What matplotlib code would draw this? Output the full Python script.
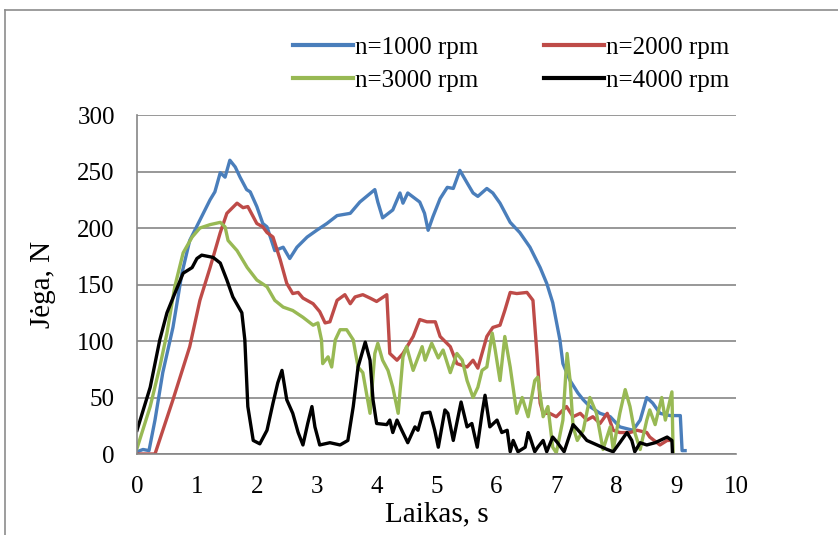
import matplotlib.pyplot as plt
from matplotlib.lines import Line2D

plt.rcParams["font.family"] = ["Liberation Serif", "DejaVu Serif"]

# =========================
# Data
# =========================
x_1000 = [0, 0.1, 0.2, 0.3, 0.43, 0.6, 0.75, 0.88, 1.05, 1.22, 1.3, 1.39, 1.47, 1.55, 1.64,
          1.72, 1.83, 1.89, 2.0, 2.1, 2.17, 2.3, 2.44, 2.55, 2.67, 2.84, 3.0, 3.17, 3.34,
          3.56, 3.72, 3.97, 4.02, 4.1, 4.27, 4.39, 4.44, 4.52, 4.72, 4.8, 4.86, 4.94, 5.06,
          5.18, 5.28, 5.39, 5.51, 5.61, 5.69, 5.84, 5.94, 6.06, 6.23, 6.39, 6.56, 6.73,
          6.84, 6.94, 7.06, 7.11, 7.23, 7.36, 7.45, 7.56, 7.73, 7.9, 8.06, 8.28, 8.4, 8.51,
          8.61, 8.73, 8.9, 9.07, 9.1, 9.15]
y_1000 = [2, 4, 3, 30, 72, 112, 160, 189, 207, 225, 232, 249, 245, 260, 254,
          245, 234, 232, 219, 204, 201, 180, 183, 173, 183, 192, 198, 204, 211,
          213, 223, 234, 223, 209, 216, 231, 222, 231, 223, 213, 198, 210, 226,
          236, 235, 251, 240, 231, 228, 235, 231, 222, 205, 196, 183, 165,
          151, 134, 101, 80, 65, 54, 48, 42, 36, 33, 24, 21, 30, 50,
          45, 36, 34, 34, 3, 3]

x_2000 = [0, 0.3, 0.6, 0.88, 1.05, 1.22, 1.39, 1.5, 1.67, 1.77, 1.85, 2.0, 2.1, 2.17, 2.27,
          2.39, 2.5, 2.6, 2.69, 2.77, 2.94, 3.05, 3.14, 3.22, 3.34, 3.47, 3.56, 3.64, 3.77,
          3.89, 4.0, 4.17, 4.22, 4.34, 4.44, 4.61, 4.72, 4.84, 4.98, 5.06, 5.23, 5.34, 5.51,
          5.61, 5.69, 5.84, 5.94, 6.06, 6.14, 6.23, 6.34, 6.51, 6.61, 6.68, 6.73, 6.78,
          6.89, 7.0, 7.17, 7.28, 7.4, 7.51, 7.61, 7.73, 7.85, 7.95, 8.06, 8.23, 8.35,
          8.51, 8.56, 8.73, 8.85, 8.9]
y_2000 = [0, 0, 48, 95, 136, 165, 196, 213, 222, 218, 219, 204, 201, 196, 192,
          172, 151, 142, 143, 138, 133, 126, 116, 117, 136, 141, 133, 139, 141,
          138, 135, 141, 89, 83, 89, 104, 119, 117, 117, 104, 95, 80, 77,
          83, 76, 104, 112, 114, 127, 143, 142, 143, 136, 86, 45, 36,
          36, 33, 42, 33, 36, 30, 33, 27, 36, 21, 19, 19, 21,
          19, 15, 8, 12, 12]

x_3000 = [0, 0.22, 0.38, 0.5, 0.63, 0.77, 0.92, 1.05, 1.22, 1.39, 1.47, 1.52, 1.67, 1.84,
          2.0, 2.17, 2.3, 2.44, 2.6, 2.77, 2.94, 3.02, 3.08, 3.1, 3.19, 3.25, 3.31, 3.39,
          3.5, 3.61, 3.69, 3.77, 3.89, 3.97, 4.02, 4.1, 4.19, 4.27, 4.36, 4.44, 4.5, 4.61,
          4.76, 4.81, 4.92, 5.03, 5.11, 5.23, 5.34, 5.43, 5.51, 5.61, 5.69, 5.76, 5.84,
          5.93, 5.98, 6.06, 6.14, 6.23, 6.34, 6.43, 6.53, 6.64, 6.69, 6.78, 6.86, 6.94,
          7.0, 7.11, 7.18, 7.23, 7.28, 7.35, 7.45, 7.56, 7.67, 7.78, 7.9, 7.95, 8.06,
          8.15, 8.23, 8.31, 8.4, 8.51, 8.56, 8.65, 8.76, 8.82, 8.93, 8.95]
y_3000 = [5, 42, 77, 107, 148, 178, 192, 200, 203, 205, 201, 189, 180, 165,
          154, 148, 136, 130, 127, 121, 114, 116, 101, 80, 86, 77, 101, 110,
          110, 101, 77, 72, 36, 89, 98, 83, 74, 59, 36, 86, 95, 74,
          95, 83, 98, 85, 92, 72, 89, 83, 65, 50, 59, 74, 77,
          107, 92, 65, 104, 77, 36, 50, 33, 65, 68, 33, 42, 6,
          1, 30, 89, 65, 24, 12, 21, 50, 36, 4, 24, 4, 36,
          57, 42, 19, 4, 30, 39, 26, 50, 30, 55, 1]

x_4000 = [0, 0.22, 0.38, 0.5, 0.63, 0.77, 0.92, 1.0, 1.08, 1.27, 1.39, 1.5, 1.6, 1.75, 1.8,
          1.85, 1.94, 2.05, 2.17, 2.27, 2.35, 2.42, 2.5, 2.6, 2.69, 2.77, 2.85, 2.92, 2.97,
          3.05, 3.22, 3.39, 3.52, 3.61, 3.69, 3.81, 3.89, 3.94, 4.0, 4.17, 4.22, 4.27, 4.34,
          4.42, 4.52, 4.64, 4.69, 4.77, 4.89, 4.97, 5.03, 5.14, 5.19, 5.28, 5.41, 5.51,
          5.59, 5.68, 5.76, 5.81, 5.89, 6.01, 6.09, 6.18, 6.23, 6.28, 6.36, 6.48, 6.53,
          6.56, 6.64, 6.69, 6.78, 6.84, 6.94, 7.02, 7.13, 7.28, 7.4, 7.51, 7.68, 7.85,
          7.95, 8.06, 8.18, 8.26, 8.31, 8.4, 8.51, 8.65, 8.73, 8.85, 8.93, 8.94]
y_4000 = [21, 59, 101, 125, 142, 160, 165, 173, 176, 174, 169, 154, 139, 125, 101,
          42, 12, 9, 21, 45, 63, 74, 48, 36, 19, 8, 27, 42, 24,
          8, 10, 8, 12, 42, 77, 99, 83, 48, 27, 26, 30, 19, 30,
          21, 10, 24, 21, 36, 37, 21, 6, 39, 36, 12, 46, 24,
          27, 6, 36, 52, 24, 30, 19, 21, 2, 12, 2, 6, 19,
          15, 2, 6, 12, 2, 15, 10, 2, 26, 19, 12, 8, 4,
          2, 10, 19, 12, 2, 10, 8, 10, 12, 15, 12, 0]

series = [
    (x_1000, y_1000, "n=1000 rpm", "#4A7EBB"),
    (x_2000, y_2000, "n=2000 rpm", "#BE4B48"),
    (x_3000, y_3000, "n=3000 rpm", "#98B954"),
    (x_4000, y_4000, "n=4000 rpm", "#000000"),
]

# =========================
# Plot
# =========================
fig = plt.figure(figsize=(8.38, 5.35), dpi=100)
ax = fig.add_axes([0.1635, 0.1514, 0.7148, 0.6336])

for xs, ys, label, color in series:
    ax.plot(xs, ys, color=color, lw=2.4, label=label, solid_joinstyle="round")

ax.set_xlim(0, 10)
ax.set_ylim(0, 300)
ax.set_xticks(range(0, 11))
ax.set_yticks(range(0, 301, 50))
ax.yaxis.grid(True, color="#868686", lw=1.2)
ax.set_axisbelow(True)
ax.tick_params(length=0, labelsize=18)
ax.tick_params(axis="x", pad=16)
ax.tick_params(axis="y", pad=16)
for side in ["top", "right"]:
    ax.spines[side].set_visible(False)
for side in ["left", "bottom"]:
    ax.spines[side].set_color("#868686")
    ax.spines[side].set_linewidth(1.2)

ax.set_xlabel("Laikas, s", fontsize=21, labelpad=2)
ax.set_ylabel("Jėga, N", fontsize=21, labelpad=15)

# legend, 2 columns above the plot, filled row by row
order = [0, 2, 1, 3]
handles = [Line2D([], [], color=series[i][3], lw=3) for i in order]
labels = [series[i][2] for i in order]
fig.legend(handles, labels, ncol=2, loc="center", bbox_to_anchor=(0.61, 0.88),
           frameon=False, fontsize=18, handlelength=2.4, handletextpad=0.1,
           columnspacing=2.6, labelspacing=0.42, borderpad=0)

# outer chart frame
fig.add_artist(Line2D([5 / 838, 5 / 838], [0, 1 - 10 / 535], color="#8c8c8c", lw=1.2,
                      transform=fig.transFigure))
fig.add_artist(Line2D([5 / 838, 1], [1 - 10 / 535, 1 - 10 / 535], color="#8c8c8c", lw=1.2,
                      transform=fig.transFigure))

fig.savefig("out.png", dpi=100)
plt.close(fig)
